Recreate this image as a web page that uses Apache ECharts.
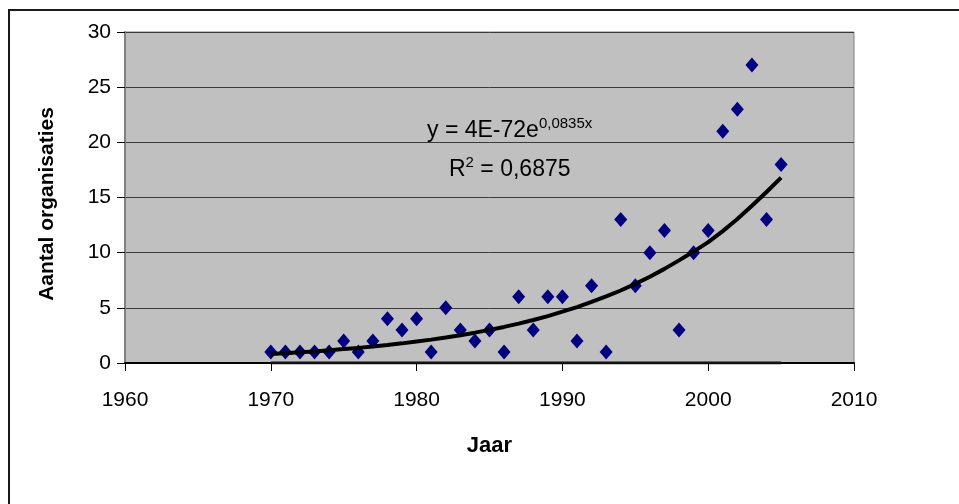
<!DOCTYPE html>
<html>
<head>
<meta charset="utf-8">
<script src="https://cdn.jsdelivr.net/npm/echarts@6/dist/echarts.min.js"></script>
<style>
html,body{margin:0;padding:0;background:#fff;}
#c{width:959px;height:504px;}
</style>
</head>
<body>
<div id="c"></div>
<script>
const years = [1970,1971,1972,1973,1974,1975,1976,1977,1978,1979,1980,1981,1982,1983,1984,1985,1986,1987,1988,1989,1990,1991,1992,1993,1994,1995,1996,1997,1998,1999,2000,2001,2002,2003,2004,2005];
const organisaties = [1,1,1,1,1,2,1,2,4,3,4,1,5,3,2,3,1,6,3,6,6,2,7,1,13,7,10,12,3,10,12,21,23,27,13,18];
const trendValues = [0.82,0.89,0.97,1.05,1.15,1.26,1.37,1.5,1.63,1.78,1.95,2.12,2.31,2.52,2.75,3.0,3.27,3.57,3.9,4.25,4.65,5.07,5.53,6.03,6.57,7.17,7.82,8.53,9.3,10.1,10.95,11.95,13.05,14.25,15.5,16.8];
const baseValues = [0,0,0,0,0,0,0,0,0,0,0,0,0,0,0,0,0,0,0,0,0,0,0,0,0,0,0,0,0,0,0,0,0,0,0,0];
const xTicks = [1960,1970,1980,1990,2000,2010];
const yTicks = [0,5,10,15,20,25,30];
const xTitle = 'Jaar';
const yTitle = 'Aantal organisaties';

const font = '"Liberation Sans", Arial, sans-serif';
const chart = echarts.init(document.getElementById('c'), null, {renderer:'canvas'});
chart.setOption({
  animation:false,
  backgroundColor:'#ffffff',
  grid:{left:125,right:105,top:32,bottom:141,show:true,backgroundColor:'#c0c0c0',borderColor:'#808080',borderWidth:1},
  graphic:[
    {type:'rect',shape:{x:9,y:10,width:980,height:520},style:{fill:'none',stroke:'#1a1a1a',lineWidth:2},z:-1},
    {type:'text',left:427,top:116,style:{
      rich:{a:{fontFamily:font,fontSize:23,fill:'#000'},s:{fontFamily:font,fontSize:15,fill:'#000',verticalAlign:'top',padding:[0,0,14,0]}},
      text:'{a|y = 4E-72e}{s|0,0835x}'
    },z:10},
    {type:'text',left:449,top:155,style:{
      rich:{a:{fontFamily:font,fontSize:23,fill:'#000'},s:{fontFamily:font,fontSize:15,fill:'#000',padding:[0,0,14,0]}},
      text:'{a|R}{s|2}{a| = 0,6875}'
    },z:10},
    {type:'text',x:47,y:204,rotation:Math.PI/2,style:{
      text:yTitle,fontFamily:font,fontSize:21,fontWeight:'bold',fill:'#000',align:'center',verticalAlign:'middle'
    },z:10}
  ],
  xAxis:{
    type:'value',min:xTicks[0],max:xTicks[xTicks.length-1],interval:10,
    name:xTitle,nameLocation:'middle',nameGap:72,
    nameTextStyle:{fontFamily:font,fontSize:22,fontWeight:'bold',color:'#000'},
    axisLine:{show:true,onZero:false,lineStyle:{color:'#000',width:2}},
    axisTick:{show:true,length:8,lineStyle:{color:'#000',width:1}},
    axisLabel:{fontFamily:font,fontSize:21,color:'#000',margin:27,formatter:v=>String(v)},
    splitLine:{show:false}
  },
  yAxis:{
    type:'value',min:yTicks[0],max:yTicks[yTicks.length-1],interval:5,
    axisLine:{show:true,lineStyle:{color:'#808080',width:2}},
    axisTick:{show:true,length:8,lineStyle:{color:'#000',width:1}},
    axisLabel:{fontFamily:font,fontSize:21,color:'#000',margin:14},
    splitLine:{show:true,lineStyle:{color:'#3a3a3a',width:1}}
  },
  series:[
    {type:'line',data:years.map((y,i)=>[y,baseValues[i]]),symbol:'none',lineStyle:{color:'#111',width:3},z:2},
    {type:'line',data:years.map((y,i)=>[y,trendValues[i]]),symbol:'none',smooth:false,lineStyle:{color:'#000',width:4},z:4},
    {type:'scatter',data:years.map((y,i)=>[y,organisaties[i]]),symbol:'diamond',symbolSize:[13,15],itemStyle:{color:'#000080',opacity:1},z:3}
  ]
});
</script>
</body>
</html>
